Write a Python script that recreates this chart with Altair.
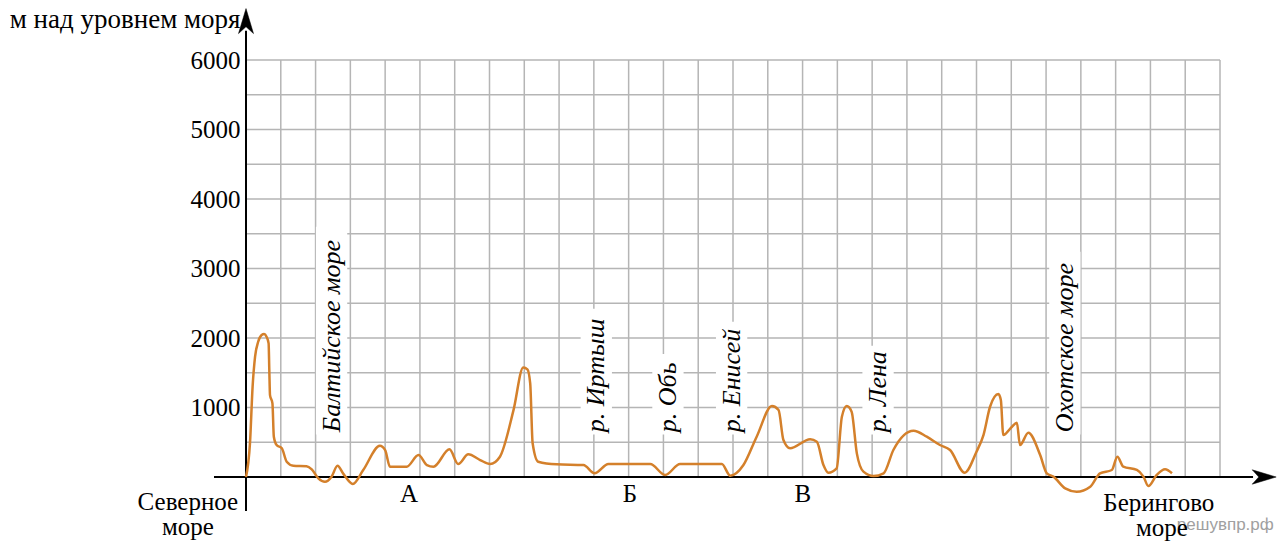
import altair as alt
import pandas as pd

# ---- profile data (distance in grid cells, elevation in metres) ----
dist = [0.00, 0.115, 0.19, 0.26, 0.35, 0.45, 0.52, 0.59, 0.65, 0.67, 0.69, 0.76, 0.80, 0.88,
        1.03, 1.17, 1.36, 1.74, 1.89, 2.08, 2.27, 2.46, 2.63, 2.80, 3.07, 3.37, 3.85, 4.00,
        4.14, 4.62, 4.96, 5.20, 5.39, 5.85, 6.10, 6.39, 6.73, 7.02, 7.30, 7.69, 7.97, 8.09,
        8.17, 8.24, 8.40, 8.93, 9.70, 10.02, 10.42, 11.62, 12.05, 12.48, 13.68, 13.92, 14.30,
        14.68, 15.12, 15.31, 15.45, 15.64, 16.22, 16.41, 16.60, 16.74, 16.98, 17.13, 17.27,
        17.41, 17.56, 17.75, 18.04, 18.33, 18.61, 19.19, 19.57, 19.95, 20.24, 20.66, 21.00,
        21.20, 21.39, 21.63, 21.70, 21.77, 22.02, 22.16, 22.25, 22.49, 22.83, 23.02, 23.21,
        23.55, 23.88, 24.27, 24.55, 24.89, 25.05, 25.22, 25.61, 25.80, 25.94, 26.18, 26.42,
        26.62]
elev = [0, 490, 1300, 1730, 1946, 2042, 2056, 2018, 1923, 1539, 1179, 1060, 580, 460,
        413, 220, 162, 155, 110, -19, -68, 5, 162, 45, -100, 100, 450, 388,
        148, 148, 316, 172, 148, 398, 187, 326, 244, 187, 292, 963, 1577, 1549,
        1347, 485, 220, 182, 172, 53, 187, 187, 29, 187, 187, 19, 172,
        580, 1021, 963, 532, 413, 542, 508, 172, 62, 125, 867, 1021,
        940, 340, 77, 14, 53, 388, 666, 580, 460, 388, 62, 364,
        604, 1011, 1194, 1107, 604, 724, 781, 460, 637, 316, 53, 5,
        -163, -211, -139, 53, 101, 292, 148, 101, 5, -129, 29, 111,
        53]

grid_x = list(range(1, 29))
grid_y = list(range(500, 6001, 500))
y_ticks = [1000, 2000, 3000, 4000, 5000, 6000]

rot_labels = ["Балтийское море", "р. Иртыш", "р. Обь", "р. Енисей", "р. Лена", "Охотское море"]
rot_x = [2.46, 10.07, 12.13, 13.96, 18.17, 23.54]
rot_top = [3600, 2420, 1770, 2235, 1890, 3240]

place_labels = ["Северное", "море", "А", "Б", "В", "Берингово", "море"]
place_x = [-1.67, -1.67, 4.69, 11.04, 16.01, 26.24, 26.33]
place_y = [-355, -715, -240, -240, -240, -374, -733]

SERIF = "Liberation Serif"

profile = pd.DataFrame({"x": dist, "y": elev})
vgrid = pd.DataFrame({"x": grid_x, "x2": grid_x, "y": [0] * len(grid_x), "y2": [6000] * len(grid_x)})
hgrid = pd.DataFrame({"x": [0] * len(grid_y), "x2": [28] * len(grid_y), "y": grid_y, "y2": grid_y})
axes_lines = pd.DataFrame({"x": [-0.92, 0], "x2": [28.95, 0], "y": [0, -490], "y2": [0, 6420]})
boxes = pd.DataFrame({"x": [v - 0.45 for v in rot_x], "x2": [v + 0.45 for v in rot_x],
                      "y": [610] * len(rot_x), "y2": rot_top})
rot_df = pd.DataFrame({"label": rot_labels, "x": rot_x, "y": [645] * len(rot_x)})
place_df = pd.DataFrame({"label": place_labels, "x": place_x, "y": place_y})
mark_df = pd.DataFrame({"label": ["решувпр.рф"], "x": [26.76], "y": [-690]})
arrow_up = pd.DataFrame({"x": [0], "y": [6560]})
arrow_right = pd.DataFrame({"x": [29.27], "y": [0]})

X = alt.X("x:Q", scale=alt.Scale(domain=[0, 28], nice=False, zero=False), axis=None)
Y = alt.Y("y:Q", scale=alt.Scale(domain=[0, 6000], nice=False, zero=False),
          axis=alt.Axis(values=y_ticks, format="d", grid=False, domain=False, ticks=False,
                        labelFont=SERIF, labelFontSize=25, labelColor="black",
                        labelPadding=6, labelBaseline="middle",
                        title="м над уровнем моря", titleAngle=0, titleAlign="right",
                        titleBaseline="alphabetic", titleX=-6, titleY=-33,
                        titleFont=SERIF, titleFontSize=27, titleFontWeight="normal",
                        titleColor="black"))

grid_v = alt.Chart(vgrid).mark_rule(color="#b5b5b5", strokeWidth=1.5).encode(x=X, x2="x2", y=Y, y2="y2")
grid_h = alt.Chart(hgrid).mark_rule(color="#b5b5b5", strokeWidth=1.5).encode(x=X, x2="x2", y=Y, y2="y2")
box_layer = alt.Chart(boxes).mark_rect(color="white").encode(x=X, x2="x2", y=Y, y2="y2")
axis_layer = alt.Chart(axes_lines).mark_rule(color="black", strokeWidth=2).encode(x=X, x2="x2", y=Y, y2="y2")
line = alt.Chart(profile).mark_line(color="#D4802B", strokeWidth=2.5, interpolate="monotone").encode(x=X, y=Y)
rot_text = alt.Chart(rot_df).mark_text(angle=270, align="left", baseline="middle", font=SERIF,
                                        fontSize=26, fontStyle="italic", color="black").encode(x=X, y=Y, text="label")
place_text = alt.Chart(place_df).mark_text(align="center", baseline="middle", font=SERIF,
                                            fontSize=25, color="black").encode(x=X, y=Y, text="label")
wm_text = alt.Chart(mark_df).mark_text(align="left", baseline="middle", font="Liberation Sans",
                                       fontSize=17, color="#a0a0a0").encode(x=X, y=Y, text="label")
up = alt.Chart(arrow_up).mark_point(shape="M0,-1 L0.6,1 L0,0.45 L-0.6,1 Z", filled=True, fill="black",
                                    stroke="black", strokeWidth=0.5, size=625, opacity=1).encode(x=X, y=Y)
right = alt.Chart(arrow_right).mark_point(shape="M1,0 L-1,-0.6 L-0.45,0 L-1,0.6 Z", filled=True, fill="black",
                                          stroke="black", strokeWidth=0.5, size=576, opacity=1).encode(x=X, y=Y)

chart = alt.layer(grid_v, grid_h, box_layer, axis_layer, line, wm_text, rot_text, place_text, up, right).properties(
    width=974, height=417,
    autosize=alt.AutoSizeParams(type="none"),
    padding={"left": 238, "top": 52, "right": 58, "bottom": 66},
).configure_view(stroke=None)

chart.save("out.html", embed_options={"renderer": "svg", "actions": False})
